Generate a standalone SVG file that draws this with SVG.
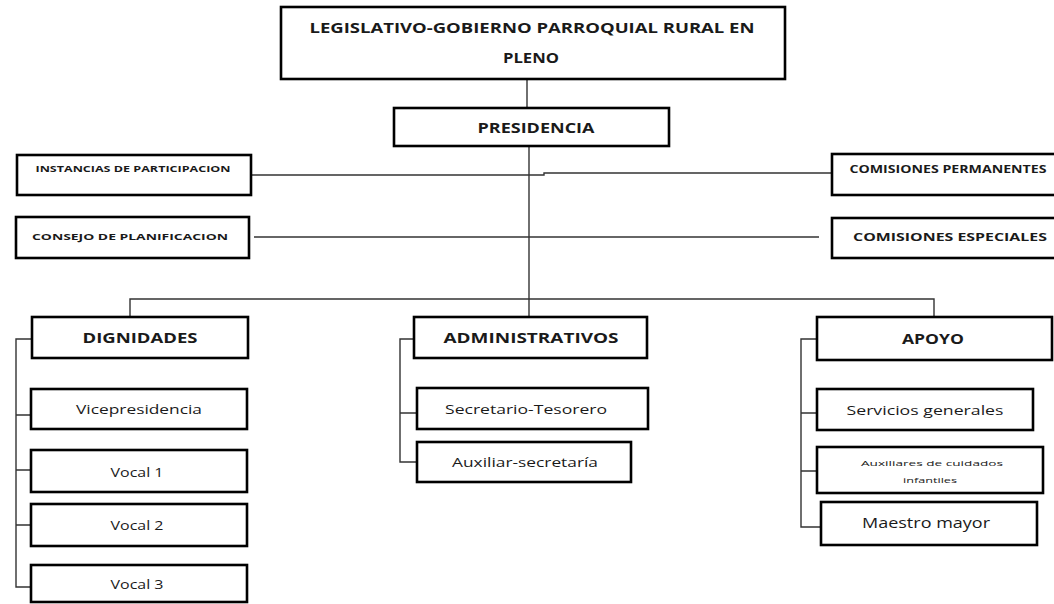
<svg xmlns="http://www.w3.org/2000/svg" width="1054" height="604" viewBox="0 0 1054 604">
<style>
.box{fill:#fff;stroke:#000;stroke-width:2.6}
.ln{fill:none;stroke:#333;stroke-width:1.4}
text{font-family:"Open Sans","Liberation Sans",sans-serif;fill:#1a1a1a;text-anchor:middle}
.b{font-weight:bold}
</style>
<rect width="1054" height="604" fill="#fff"/>
<g id="connectors">
<path class="ln" d="M527 79V108"/>
<path class="ln" d="M529 146V317"/>
<path class="ln" d="M251 175H544V173H832"/>
<path class="ln" d="M254 237H819"/>
<path class="ln" d="M130 317V299H934V317"/>
<path class="ln" d="M32 339H16V587H32M16 415H31M16 470H31M16 525H31"/>
<path class="ln" d="M414 339H400V462H417M400 413H417"/>
<path class="ln" d="M817 339H801V527H821M801 413H817M801 471H817"/>
</g>
<g id="n-legislativo"><rect class="box" x="281" y="7" width="504" height="72"/>
<text class="b" x="532" y="33" font-size="14" textLength="445" lengthAdjust="spacingAndGlyphs">LEGISLATIVO-GOBIERNO PARROQUIAL RURAL EN</text>
<text class="b" x="531" y="63" font-size="14" textLength="56" lengthAdjust="spacingAndGlyphs">PLENO</text></g>
<g id="n-presidencia"><rect class="box" x="394" y="108" width="275" height="38"/>
<text class="b" x="536" y="133" font-size="14" textLength="117" lengthAdjust="spacingAndGlyphs">PRESIDENCIA</text></g>
<g id="n-instancias"><rect class="box" x="17" y="155" width="234" height="40"/>
<text class="b" x="133" y="172" font-size="9" textLength="195" lengthAdjust="spacingAndGlyphs">INSTANCIAS DE PARTICIPACION</text></g>
<g id="n-consejo"><rect class="box" x="16" y="217" width="233" height="41"/>
<text class="b" x="130" y="240" font-size="9.5" textLength="196" lengthAdjust="spacingAndGlyphs">CONSEJO DE PLANIFICACION</text></g>
<g id="n-permanentes"><rect class="box" x="832" y="154" width="230" height="41"/>
<text class="b" x="948" y="173" font-size="10" textLength="197" lengthAdjust="spacingAndGlyphs">COMISIONES PERMANENTES</text></g>
<g id="n-especiales"><rect class="box" x="832" y="218" width="230" height="40"/>
<text class="b" x="950" y="241" font-size="10.5" textLength="194" lengthAdjust="spacingAndGlyphs">COMISIONES ESPECIALES</text></g>
<g id="n-dignidades"><rect class="box" x="32" y="317" width="216" height="41"/>
<text class="b" x="140" y="343" font-size="14" textLength="115" lengthAdjust="spacingAndGlyphs">DIGNIDADES</text></g>
<g id="n-vice"><rect class="box" x="31" y="389" width="216" height="40"/>
<text x="139" y="414" font-size="13" textLength="126" lengthAdjust="spacingAndGlyphs">Vicepresidencia</text></g>
<g id="n-vocal1"><rect class="box" x="31" y="450" width="216" height="42"/>
<text x="137" y="477" font-size="13" textLength="53" lengthAdjust="spacingAndGlyphs">Vocal 1</text></g>
<g id="n-vocal2"><rect class="box" x="31" y="504" width="216" height="42"/>
<text x="137" y="530" font-size="13" textLength="53" lengthAdjust="spacingAndGlyphs">Vocal 2</text></g>
<g id="n-vocal3"><rect class="box" x="31" y="565" width="216" height="37"/>
<text x="137" y="589" font-size="13" textLength="53" lengthAdjust="spacingAndGlyphs">Vocal 3</text></g>
<g id="n-administrativos"><rect class="box" x="414" y="317" width="233" height="41"/>
<text class="b" x="531" y="343" font-size="14" textLength="175" lengthAdjust="spacingAndGlyphs">ADMINISTRATIVOS</text></g>
<g id="n-secretario"><rect class="box" x="417" y="388" width="231" height="41"/>
<text x="526" y="414" font-size="13" textLength="162" lengthAdjust="spacingAndGlyphs">Secretario-Tesorero</text></g>
<g id="n-auxiliar"><rect class="box" x="417" y="442" width="214" height="40"/>
<text x="525" y="467" font-size="13" textLength="146" lengthAdjust="spacingAndGlyphs">Auxiliar-secretaría</text></g>
<g id="n-apoyo"><rect class="box" x="817" y="317" width="235" height="43"/>
<text class="b" x="933" y="344" font-size="14" textLength="62" lengthAdjust="spacingAndGlyphs">APOYO</text></g>
<g id="n-servicios"><rect class="box" x="817" y="389" width="216" height="41"/>
<text x="925" y="415" font-size="13" textLength="157" lengthAdjust="spacingAndGlyphs">Servicios generales</text></g>
<g id="n-auxiliares"><rect class="box" x="817" y="447" width="226" height="46"/>
<text x="932" y="466" font-size="7.5" fill="#555" textLength="142" lengthAdjust="spacingAndGlyphs">Auxiliares de cuidados</text>
<text x="930" y="483" font-size="7.5" fill="#555" textLength="54" lengthAdjust="spacingAndGlyphs">infantiles</text></g>
<g id="n-maestro"><rect class="box" x="821" y="502" width="216" height="43"/>
<text x="926" y="528" font-size="14" textLength="128" lengthAdjust="spacingAndGlyphs">Maestro mayor</text></g>
</svg>
